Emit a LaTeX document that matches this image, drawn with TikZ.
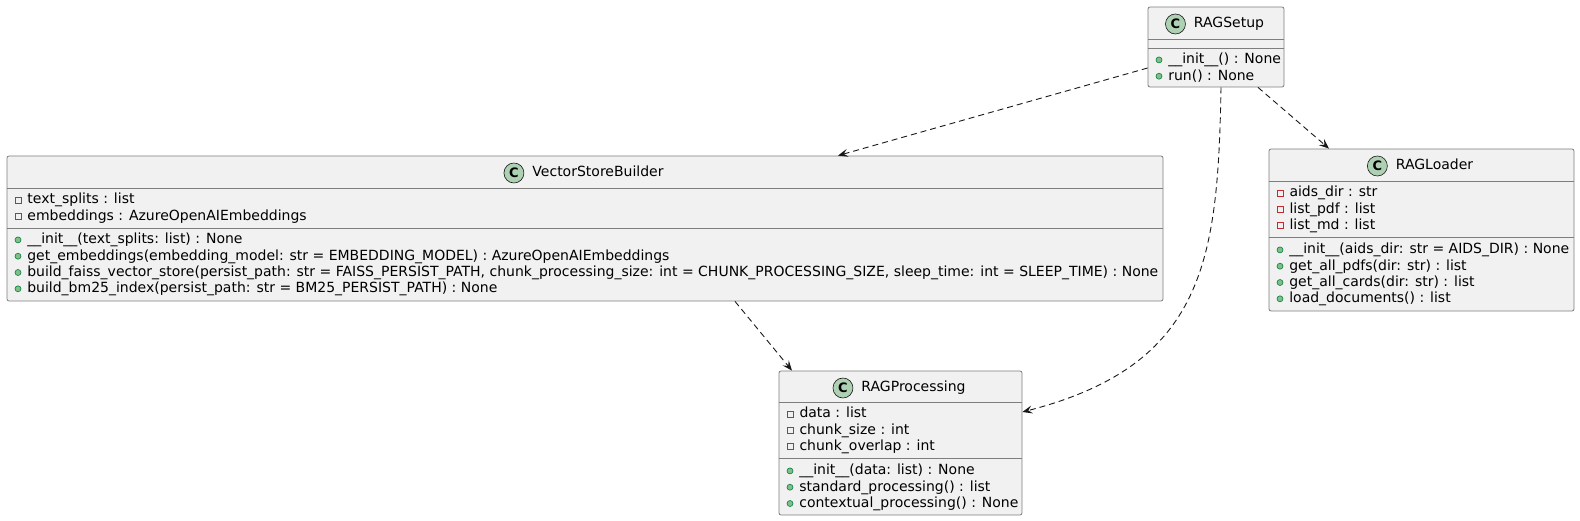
\documentclass[tikz,border=0pt]{standalone}
\usepackage{fontspec}
\setmainfont{DejaVu Sans}
\usetikzlibrary{positioning,arrows.meta}

\definecolor{umlfill}{HTML}{F1F1F1}
\definecolor{umlline}{HTML}{181818}
\definecolor{boxline}{HTML}{7E7E7E}
\definecolor{iconfill}{HTML}{ADD1B2}
\definecolor{privred}{HTML}{C82930}
\definecolor{pubgreen}{HTML}{038048}
\definecolor{publight}{HTML}{84BE84}

% visibility marks in front of the members
\newcommand{\privm}{\tikz[baseline=-0.8pt]\draw[privred, line width=0.8pt] (0pt,0pt) rectangle (6pt,6pt);\hspace{6pt}}
\newcommand{\pubm}{\tikz[baseline=-0.8pt]\draw[pubgreen, fill=publight, line width=0.6pt] (3pt,3pt) circle (3pt);\hspace{6pt}}

\begin{document}
\begin{tikzpicture}[x=1pt, y=-1pt,
    classbox/.style={draw=boxline, fill=umlfill, line width=0.8pt, rounded corners=2pt, inner sep=0pt},
    cicon/.style={circle, draw=umlline, fill=iconfill, line width=0.6pt, minimum size=20pt, inner sep=0pt, font=\fontsize{13}{13}\selectfont\bfseries},
    title/.style={inner sep=0pt, text height=10pt, text depth=3pt, font=\fontsize{14}{16.3}\selectfont},
    members/.style={anchor=north west, inner sep=0pt, align=left, font=\fontsize{14}{16.3}\selectfont},
    sepline/.style={draw=boxline, line width=0.8pt},
    depend/.style={draw=umlline, line width=0.9pt, dash pattern=on 6pt off 4pt, -{Stealth[length=10pt, width=8pt, inset=4pt]}}
  ]
    \useasboundingbox (0,0) rectangle (1580,521);

    % Class boxes
    \node[classbox, minimum width=136pt, minimum height=80pt] (setup) at (1216,47) {};
    \node[classbox, minimum width=1156pt, minimum height=145pt] (vsb) at (585,228.5) {};
    \node[classbox, minimum width=243pt, minimum height=144pt] (proc) at (900.5,443) {};
    \node[classbox, minimum width=305pt, minimum height=162pt] (loader) at (1421.5,230) {};

    % RAGSetup
    \node[title] (setup-name) at (1229,24) {RAGSetup};
    \node[cicon, left=8pt of setup-name] (setup-c) {C};
    \draw[sepline] (1148,39) -- (1284,39);
    \draw[sepline] (1148,48) -- (1284,48);
    \node[members] (setup-ops) at (1155.5,52.1) {\strut\pubm\_\_init\_\_() : None\\
      \strut\pubm run() : None};

    % VectorStoreBuilder
    \node[title] (vsb-name) at (598,173) {VectorStoreBuilder};
    \node[cicon, left=8pt of vsb-name] (vsb-c) {C};
    \draw[sepline] (7,188) -- (1163,188);
    \draw[sepline] (7,228) -- (1163,228);
    \node[members] (vsb-attrs) at (14.5,192.1) {\strut\privm text\_splits : list\\
      \strut\privm embeddings : AzureOpenAIEmbeddings};
    \node[members] (vsb-ops) at (14.5,232.1) {\strut\pubm\_\_init\_\_(text\_splits: list) : None\\
      \strut\pubm get\_embeddings(embedding\_model: str = EMBEDDING\_MODEL) : AzureOpenAIEmbeddings\\
      \strut\pubm build\_faiss\_vector\_store(persist\_path: str = FAISS\_PERSIST\_PATH, chunk\_processing\_size: int = CHUNK\_PROCESSING\_SIZE, sleep\_time: int = SLEEP\_TIME) : None\\
      \strut\pubm build\_bm25\_index(persist\_path: str = BM25\_PERSIST\_PATH) : None};

    % RAGProcessing
    \node[title] (proc-name) at (913.5,388) {RAGProcessing};
    \node[cicon, left=8pt of proc-name] (proc-c) {C};
    \draw[sepline] (779,402) -- (1022,402);
    \draw[sepline] (779,458.5) -- (1022,458.5);
    \node[members] (proc-attrs) at (786.5,406.1) {\strut\privm data : list\\
      \strut\privm chunk\_size : int\\
      \strut\privm chunk\_overlap : int};
    \node[members] (proc-ops) at (786.5,463.1) {\strut\pubm\_\_init\_\_(data: list) : None\\
      \strut\pubm standard\_processing() : list\\
      \strut\pubm contextual\_processing() : None};

    % RAGLoader
    \node[title] (loader-name) at (1434.5,166) {RAGLoader};
    \node[cicon, left=8pt of loader-name] (loader-c) {C};
    \draw[sepline] (1269,181) -- (1574,181);
    \draw[sepline] (1269,237) -- (1574,237);
    \node[members] (loader-attrs) at (1276.5,185.1) {\strut\privm aids\_dir : str\\
      \strut\privm list\_pdf : list\\
      \strut\privm list\_md : list};
    \node[members] (loader-ops) at (1276.5,242.1) {\strut\pubm\_\_init\_\_(aids\_dir: str = AIDS\_DIR) : None\\
      \strut\pubm get\_all\_pdfs(dir: str) : list\\
      \strut\pubm get\_all\_cards(dir: str) : list\\
      \strut\pubm load\_documents() : list};

    % Dependencies
    \draw[depend] ([yshift=-21pt]setup.west) -- ([xshift=253pt]vsb.north);
    \draw[depend] ([xshift=5pt]setup.south) .. controls (1218,260) and (1205,365) .. ([yshift=31pt]proc.east);
    \draw[depend] ([xshift=42pt]setup.south) -- ([xshift=-92.5pt]loader.north);
    \draw[depend] ([xshift=150pt]vsb.south) -- ([xshift=-108.5pt]proc.north);
\end{tikzpicture}
\end{document}
